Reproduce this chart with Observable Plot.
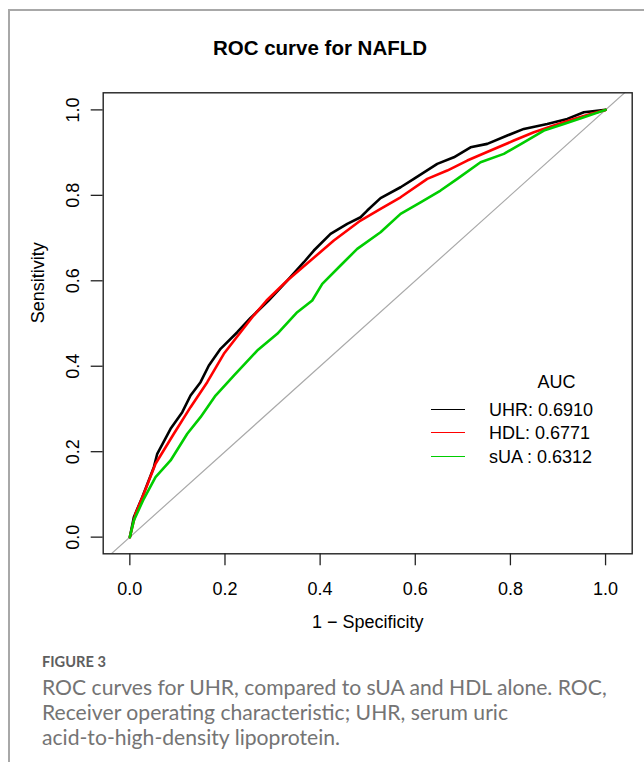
<!DOCTYPE html>
<html>
<head>
<meta charset="utf-8">
<script src="https://cdn.jsdelivr.net/npm/d3@7"></script>
<script src="https://cdn.jsdelivr.net/npm/@observablehq/plot@0.6"></script>
<style>
  html, body { margin: 0; padding: 0; background: #fff; }
  #wrap { position: relative; width: 644px; height: 762px; overflow: hidden; font-family: "Liberation Sans", Arial, sans-serif; }
  #box { position: absolute; left: 8px; top: 9px; width: 700px; height: 800px; border-left: 2px solid #a8a8a8; border-top: 2px solid #a8a8a8; }
  #title { position: absolute; left: 0; width: 640px; top: 37.5px; text-align: center; font-weight: bold; font-size: 20.5px; line-height: 20.5px; color: #000; white-space: nowrap; }
  #chart { position: absolute; left: 0; top: 70px; }
  .leg { position: absolute; font-size: 18px; line-height: 24px; height: 24px; color: #000; white-space: nowrap; }
  .legline { position: absolute; height: 0; }
  #cap { position: absolute; left: 42px; top: 649px; font-family: Lato, "Open Sans", sans-serif; color: #747474; }
  #fig { font-size: 16px; font-weight: 700; color: #5e5e5e; line-height: 26px; white-space: nowrap; display: inline-block; }
  #captext { font-size: 20px; line-height: 25px; white-space: nowrap; }
  #captext div { height: 25px; }
</style>
</head>
<body>
<div id="wrap">
  <div id="box"></div>
  <div id="title"></div>
  <div id="chart"></div>
  <div id="legend"></div>
  <div id="cap"><div id="fig"></div><div id="captext"></div></div>
</div>
<script>
// ---------- data ----------
const titleText = "ROC curve for NAFLD";
const xLabel = "1 \u2212 Specificity";
const yLabel = "Sensitivity";
const xTicks = [0, 0.2, 0.4, 0.6, 0.8, 1.0];
const yTicks = [0, 0.2, 0.4, 0.6, 0.8, 1.0];
const seriesNames = ["UHR", "HDL", "sUA"];
const legendTitle = "AUC";
const legendLabels = ["UHR: 0.6910", "HDL: 0.6771", "sUA : 0.6312"];
const chanceLine = [-0.1, 1.1];

const uhrFPR = [0, 0.0084, 0.0261, 0.0505, 0.0576, 0.0856, 0.1102, 0.1276, 0.1486, 0.1661, 0.1907, 0.2258, 0.2537, 0.2916, 0.3309, 0.3658, 0.3868, 0.4219, 0.4570, 0.4850, 0.4990, 0.5270, 0.5691, 0.5970, 0.6462, 0.6811, 0.7162, 0.7513, 0.7934, 0.8282, 0.8774, 0.9195, 0.9544, 1];
const uhrTPR = [0, 0.0468, 0.0936, 0.1638, 0.1951, 0.2536, 0.2925, 0.3315, 0.3627, 0.4017, 0.4408, 0.4796, 0.5129, 0.5538, 0.6006, 0.6434, 0.6708, 0.7099, 0.7333, 0.7487, 0.7644, 0.7936, 0.8189, 0.8386, 0.8737, 0.8891, 0.9125, 0.9205, 0.9399, 0.9555, 0.9672, 0.9789, 0.9944, 1];

const hdlFPR = [0, 0.012, 0.0294, 0.054, 0.0925, 0.1276, 0.1627, 0.1976, 0.2327, 0.2573, 0.2874, 0.3309, 0.3799, 0.4288, 0.4850, 0.5270, 0.5691, 0.6252, 0.6672, 0.7093, 0.7583, 0.8072, 0.8493, 0.8913, 0.9334, 0.9685, 1];
const hdlTPR = [0, 0.0547, 0.1015, 0.1717, 0.2419, 0.3042, 0.3627, 0.4291, 0.4796, 0.5147, 0.5538, 0.6006, 0.6474, 0.6942, 0.7410, 0.7684, 0.7955, 0.8386, 0.8580, 0.8814, 0.9048, 0.9282, 0.9476, 0.9633, 0.9789, 0.9906, 1];

const suaFPR = [0, 0.0084, 0.0294, 0.054, 0.0856, 0.1207, 0.1486, 0.1802, 0.2186, 0.2678, 0.3099, 0.3519, 0.3834, 0.4045, 0.4429, 0.4780, 0.5270, 0.5691, 0.6111, 0.6531, 0.6883, 0.7372, 0.7862, 0.8282, 0.8703, 0.9123, 0.9544, 1];
const suaTPR = [0, 0.0391, 0.0898, 0.1404, 0.1795, 0.2419, 0.2808, 0.3315, 0.3783, 0.4368, 0.4759, 0.5264, 0.5538, 0.5929, 0.6357, 0.6748, 0.7136, 0.7567, 0.7838, 0.8112, 0.8386, 0.8774, 0.8971, 0.9242, 0.9516, 0.9672, 0.9828, 1];

const captionHead = "FIGURE 3";
const captionLines = [
  "ROC curves for UHR, compared to sUA and HDL alone. ROC,",
  "Receiver operating characteristic; UHR, serum uric",
  "acid-to-high-density lipoprotein."
];

// ---------- build ----------
const seriesColors = ["#000000", "#ff0000", "#00cd00"];
const fprs = [uhrFPR, hdlFPR, suaFPR];
const tprs = [uhrTPR, hdlTPR, suaTPR];

document.getElementById("title").textContent = titleText;

const fmt = d3.format(".1f");
const marks = [
  Plot.line(chanceLine, {x: d => d, y: d => d, stroke: "#aaaaaa", strokeWidth: 1.2, clip: true})
];
seriesNames.forEach((name, i) => {
  const rows = fprs[i].map((x, j) => ({x, y: tprs[i][j]}));
  marks.push(Plot.line(rows, {x: "x", y: "y", stroke: seriesColors[i], strokeWidth: 2.6, strokeLinejoin: "round"}));
});
marks.push(
  Plot.frame({stroke: "#222", strokeWidth: 1.4}),
  Plot.axisX({ticks: xTicks, tickSize: 12, tickPadding: 16, tickFormat: fmt, fontSize: 18, label: null, stroke: "#222", strokeWidth: 1.3, fill: "#000"}),
  Plot.axisY({ticks: yTicks, tickSize: 12, tickPadding: 12.5, tickRotate: -90, tickFormat: fmt, fontSize: 18, label: null, stroke: "#222", strokeWidth: 1.3, fill: "#000"}),
  Plot.text([xLabel], {frameAnchor: "bottom", dy: 74, fontSize: 18, fill: "#000"}),
  Plot.text([yLabel], {frameAnchor: "left", dx: -65, rotate: -90, fontSize: 18, fill: "#000"})
);

const chart = Plot.plot({
  width: 644,
  height: 570,
  marginLeft: 102.7,
  marginRight: 12.3,
  marginTop: 22.3,
  marginBottom: 86.7,
  x: {domain: [-0.056, 1.056]},
  y: {domain: [-0.039, 1.04]},
  style: {fontFamily: "'Liberation Sans', Arial, sans-serif", fontSize: "18px", background: "transparent", color: "#000", overflow: "visible"},
  marks
});
document.getElementById("chart").appendChild(chart);

// ---------- legend (HTML overlay) ----------
const leg = document.getElementById("legend");
const t = document.createElement("div");
t.className = "leg";
t.textContent = legendTitle;
t.style.left = "500px"; t.style.width = "113px"; t.style.textAlign = "center";
t.style.top = (382 - 12) + "px";
leg.appendChild(t);
legendLabels.forEach((lab, i) => {
  const cy = 409.5 + i * 23.5;
  const ln = document.createElement("div");
  ln.className = "legline";
  ln.style.left = "431px"; ln.style.width = "34px";
  ln.style.top = (cy - 0.8) + "px";
  ln.style.borderTop = "1.6px solid " + seriesColors[i];
  leg.appendChild(ln);
  const tx = document.createElement("div");
  tx.className = "leg";
  tx.textContent = lab;
  tx.style.left = "489px";
  tx.style.top = (cy - 12) + "px";
  leg.appendChild(tx);
});

// ---------- caption ----------
const fig = document.getElementById("fig");
fig.textContent = captionHead;
const fw = fig.getBoundingClientRect().width;
if (fw > 0) fig.style.fontSize = (16 * 64 / fw).toFixed(2) + "px";
const ct = document.getElementById("captext");
captionLines.forEach(l => { const d = document.createElement("div"); d.textContent = l; ct.appendChild(d); });
// fit first line width to ~565px
const probe = ct.firstChild;
probe.style.display = "inline-block";
const w = probe.getBoundingClientRect().width;
probe.style.display = "";
if (w > 0) {
  const fs = 20 * 565 / w;
  ct.style.fontSize = fs.toFixed(2) + "px";
}
</script>
</body>
</html>
